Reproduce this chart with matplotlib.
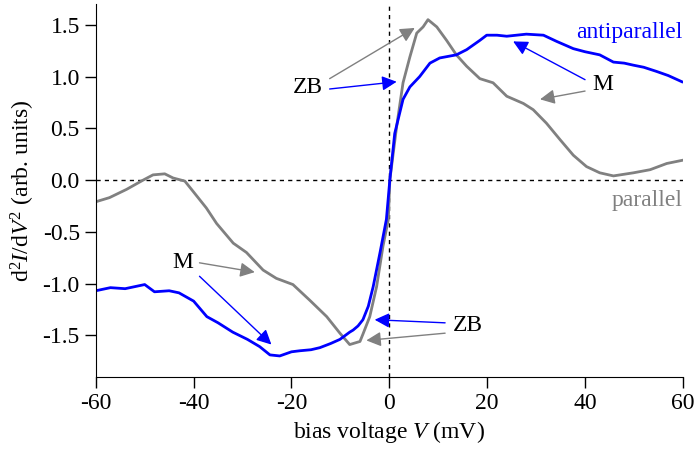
import matplotlib
matplotlib.use('Agg')
import matplotlib.pyplot as plt

plt.rcParams['font.family'] = ['Liberation Serif', 'DejaVu Serif']
plt.rcParams['mathtext.fontset'] = 'custom'
plt.rcParams['mathtext.rm'] = 'Liberation Serif'
plt.rcParams['mathtext.it'] = 'Liberation Serif:italic'
plt.rcParams['axes.unicode_minus'] = False

# antiparallel (blue) curve: bias (mV), d2I/dV2
ap_v = [-60, -57, -54, -50, -48, -45, -43, -40, -37.3, -35, -32, -29, -26.5, -24.4, -22.4,
        -20, -18.3, -16, -14.2, -12, -10.1, -8.1, -7.4, -6.4, -5.4, -4.3, -3.3, -1.9, -0.6,
        0.1, 1.1, 2.8, 4.2, 6.2, 8.3, 10.3, 13.7, 15.8, 18.5, 19.9, 22, 24, 26, 28, 31.5,
        34.2, 37.6, 40, 43, 45.8, 48, 49.9, 52, 54.6, 57, 59.8]
ap_d = [-1.07, -1.04, -1.05, -1.01, -1.08, -1.07, -1.09, -1.17, -1.32, -1.38, -1.47, -1.54, -1.61, -1.69, -1.70,
        -1.66, -1.65, -1.64, -1.62, -1.58, -1.54, -1.47, -1.45, -1.41, -1.35, -1.22, -1.03, -0.70, -0.38,
        0.0, 0.45, 0.78, 0.90, 1.00, 1.13, 1.18, 1.21, 1.26, 1.35, 1.40, 1.40, 1.39, 1.40, 1.41, 1.40,
        1.34, 1.27, 1.24, 1.21, 1.14, 1.13, 1.11, 1.09, 1.05, 1.01, 0.95]

# parallel (gray) curve
p_v = [-60, -57.2, -53.7, -50.3, -48.3, -45.9, -44.2, -41.8, -40.1, -37.4, -35.3, -31.9, -29.2,
       -25.8, -23.1, -19.7, -16.3, -12.8, -10.1, -8.1, -6.0, -5.4, -4.0, -2.6, -1.3, -0.2,
       0.1, 1.5, 2.8, 4.2, 5.6, 6.9, 7.9, 9.7, 11.7, 13.7, 15.8, 18.5, 21.2, 24, 27.4, 29.4,
       32.1, 34.9, 37.6, 40.3, 43, 45.8, 49.9, 53.3, 56.7, 59.8]
p_d = [-0.21, -0.17, -0.09, 0.0, 0.05, 0.06, 0.02, -0.01, -0.11, -0.27, -0.42, -0.61, -0.70,
       -0.87, -0.95, -1.01, -1.16, -1.32, -1.48, -1.59, -1.56, -1.49, -1.32, -1.03, -0.64, -0.38,
       0.0, 0.52, 0.94, 1.19, 1.42, 1.48, 1.55, 1.48, 1.35, 1.21, 1.10, 0.98, 0.94, 0.81, 0.74, 0.68,
       0.55, 0.39, 0.24, 0.13, 0.07, 0.04, 0.07, 0.10, 0.16, 0.19]

blue = '#0000ff'
gray = '#808080'

fig = plt.figure(figsize=(6.94, 4.61), dpi=100)
ax = fig.add_axes([0.138, 0.183, 0.846, 0.808])

ax.axhline(0, color='black', ls=(0, (3, 3)), lw=1)
ax.axvline(0, color='black', ls=(0, (3, 3)), lw=1)

ax.plot(p_v, p_d, color=gray, lw=2)
ax.plot(ap_v, ap_d, color=blue, lw=2)

ax.set_xlim(-60, 60)
ax.set_ylim(-1.9, 1.7)
ax.set_xticks([-60, -40, -20, 0, 20, 40, 60])
ax.set_yticks([-1.5, -1.0, -0.5, 0.0, 0.5, 1.0, 1.5])
ax.set_yticklabels(['-1.5', '-1.0', '-0.5', '0.0', '0.5', '1.0', '1.5'])
ax.spines['top'].set_visible(False)
ax.spines['right'].set_visible(False)
ax.tick_params(direction='out', length=8, width=1, labelsize=17)

ax.set_xlabel('bias voltage $\\mathit{V}$ (mV)', fontsize=17)
ax.set_ylabel('d$^2$$\\mathit{I}$/d$\\mathit{V}^2$ (arb. units)', fontsize=17)

ax.text(60, 1.43, 'antiparallel', color=blue, fontsize=17, ha='right', va='center')
ax.text(60, -0.2, 'parallel', color=gray, fontsize=17, ha='right', va='center')

def arrow(x0, y0, x1, y1, c):
    ax.annotate('', xy=(x1, y1), xytext=(x0, y0),
                arrowprops=dict(arrowstyle='-|>', color=c, lw=1, mutation_scale=22,
                                shrinkA=0, shrinkB=0))

# upper ZB
ax.text(-16.6, 0.89, 'ZB', fontsize=17, ha='center', va='center')
arrow(-12.2, 0.98, 5.2, 1.47, gray)
arrow(-12.2, 0.88, 1.5, 0.95, blue)
# right M
ax.text(43.7, 0.92, 'M', fontsize=17, ha='center', va='center')
arrow(40, 0.97, 25.3, 1.34, blue)
arrow(40, 0.86, 30.8, 0.78, gray)
# left M
ax.text(-42.2, -0.80, 'M', fontsize=17, ha='center', va='center')
arrow(-38.8, -0.80, -27.5, -0.89, gray)
arrow(-38.8, -0.93, -24.1, -1.59, blue)
# lower ZB
ax.text(16.1, -1.41, 'ZB', fontsize=17, ha='center', va='center')
arrow(11.4, -1.38, -3.0, -1.35, blue)
arrow(11.4, -1.48, -4.7, -1.55, gray)

fig.savefig('out.png', dpi=100)
